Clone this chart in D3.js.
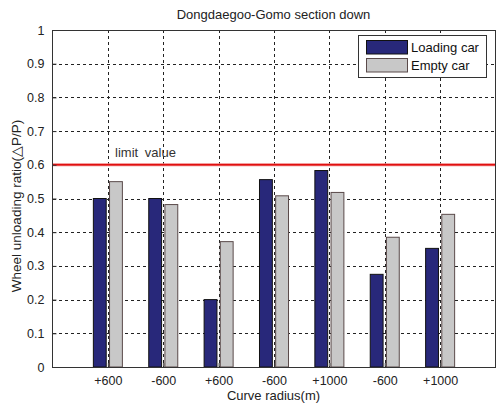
<!DOCTYPE html>
<html>
<head>
<meta charset="utf-8">
<script src="https://cdn.jsdelivr.net/npm/d3@7/dist/d3.min.js"></script>
<style>
  html, body { margin: 0; padding: 0; background: #fff; }
  svg { display: block; font-family: "Liberation Sans", Arial, sans-serif; }
</style>
</head>
<body>
<svg id="chart" width="496" height="404"></svg>
<script>
// Curve radius of each measured section (x categories)
const categories = ["+600", "-600", "+600", "-600", "+1000", "-600", "+1000"];
// Wheel unloading ratio per section
const loadingCar = [0.50, 0.50, 0.20, 0.556, 0.583, 0.275, 0.352];
const emptyCar   = [0.55, 0.482, 0.372, 0.508, 0.518, 0.385, 0.453];
const yTicks = [0, 0.1, 0.2, 0.3, 0.4, 0.5, 0.6, 0.7, 0.8, 0.9, 1];
const limitValue = 0.6;

const seriesNames = ["Loading car", "Empty car"];
const seriesFill = ["#28287a", "#c8c8c8"];
const seriesStroke = ["#111", "#5a4a4a"];

const svg = d3.select("#chart");
const plotL = 52.5, plotR = 495.5, plotT = 30, plotB = 367;

const x = d3.scaleLinear().domain([0, categories.length + 1]).range([plotL, plotR]);
const y = d3.scaleLinear().domain([0, 1]).range([plotB, plotT]);
const tickFmt = d => d === 0 ? "0" : d === 1 ? "1" : d3.format(".1f")(d);

// Dashed grid
const grid = svg.append("g").attr("stroke", "#222").attr("stroke-width", 1)
  .attr("stroke-dasharray", "3,3").attr("shape-rendering", "crispEdges");
grid.selectAll("line.h").data(yTicks.slice(1, -1)).join("line").attr("class", "h")
  .attr("x1", plotL).attr("x2", plotR)
  .attr("y1", d => Math.round(y(d)) + 0.5).attr("y2", d => Math.round(y(d)) + 0.5);
grid.selectAll("line.v").data(categories.map((c, i) => i + 1)).join("line").attr("class", "v")
  .attr("y1", plotT).attr("y2", plotB)
  .attr("x1", d => Math.round(x(d)) + 0.5).attr("x2", d => Math.round(x(d)) + 0.5);

// Limit line
svg.append("line")
  .attr("x1", plotL).attr("x2", plotR)
  .attr("y1", y(limitValue)).attr("y2", y(limitValue))
  .attr("stroke", "#f08080").attr("stroke-width", 3);
svg.append("line")
  .attr("x1", plotL).attr("x2", plotR)
  .attr("y1", y(limitValue)).attr("y2", y(limitValue))
  .attr("stroke", "#e01010").attr("stroke-width", 1.6);
svg.append("text")
  .attr("x", x(1.13)).attr("y", y(limitValue) - 8)
  .attr("font-size", 13).attr("fill", "#333").attr("word-spacing", 3)
  .text("limit value");

// Grouped bars
const barW = 0.232, offset = 0.146;
[loadingCar, emptyCar].forEach((vals, s) => {
  svg.append("g").selectAll("rect").data(vals).join("rect")
    .attr("x", (d, i) => x(i + 1 + (s === 0 ? -offset : offset) - barW / 2))
    .attr("width", x(barW) - x(0))
    .attr("y", d => y(d))
    .attr("height", d => y(0) - y(d))
    .attr("fill", seriesFill[s])
    .attr("stroke", seriesStroke[s]).attr("stroke-width", 1);
});

// Axes box
svg.append("rect")
  .attr("x", plotL).attr("y", plotT + 0.5)
  .attr("width", plotR - plotL).attr("height", plotB - plotT)
  .attr("fill", "none").attr("stroke", "#333").attr("stroke-width", 1);

// Y axis
const yAxis = d3.axisLeft(y).tickValues(yTicks).tickFormat(tickFmt).tickSize(-4).tickPadding(8);
const gy = svg.append("g").attr("transform", `translate(${plotL},0)`).call(yAxis);
gy.select(".domain").remove();
gy.selectAll(".tick line").attr("stroke", "#333");
gy.selectAll("text").attr("font-size", 12.5).attr("fill", "#222")
  .attr("font-family", "\"Liberation Sans\", Arial, sans-serif");

// X axis
const xAxis = d3.axisBottom(x).tickValues(categories.map((c, i) => i + 1))
  .tickFormat((d) => categories[d - 1]).tickSize(-4).tickPadding(9);
const gx = svg.append("g").attr("transform", `translate(0,${plotB})`).call(xAxis);
gx.select(".domain").remove();
gx.selectAll(".tick line").attr("stroke", "#333");
gx.selectAll("text").attr("font-size", 12.5).attr("fill", "#222")
  .attr("font-family", "\"Liberation Sans\", Arial, sans-serif");

// Titles
svg.append("text").attr("x", (plotL + plotR) / 2 - 0.5).attr("y", 18.5)
  .attr("text-anchor", "middle").attr("font-size", 13).attr("fill", "#222")
  .text("Dongdaegoo-Gomo section down");
svg.append("text").attr("x", (plotL + plotR) / 2 - 0.5).attr("y", 400)
  .attr("text-anchor", "middle").attr("font-size", 13).attr("fill", "#222")
  .text("Curve radius(m)");
svg.append("text")
  .attr("transform", `translate(21,206) rotate(-90)`)
  .attr("text-anchor", "middle").attr("font-size", 13.5).attr("fill", "#222")
  .text("Wheel unloading ratio(△P/P)");

// Legend
const lg = svg.append("g");
lg.append("rect").attr("x", 358.5).attr("y", 35.5).attr("width", 128).attr("height", 42)
  .attr("fill", "#fff").attr("stroke", "#333");
seriesNames.forEach((name, i) => {
  lg.append("rect").attr("x", 366.5).attr("y", 40.5 + i * 18).attr("width", 41).attr("height", 13.5)
    .attr("fill", seriesFill[i]).attr("stroke", seriesStroke[i]);
  lg.append("text").attr("x", 411).attr("y", 52 + i * 18)
    .attr("font-size", 13).attr("fill", "#111").text(name);
});
</script>
</body>
</html>
